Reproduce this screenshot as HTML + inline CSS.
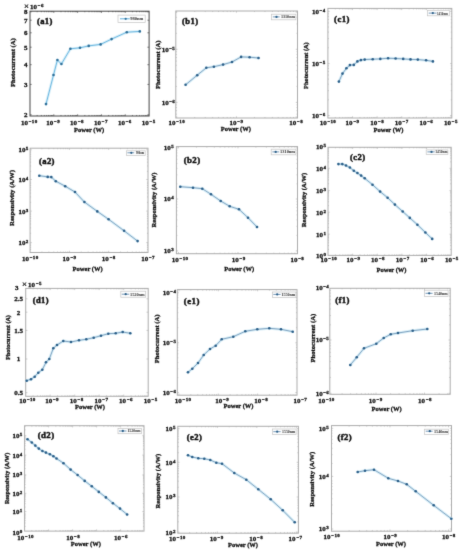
<!DOCTYPE html>
<html><head><meta charset="utf-8"><style>
html,body{margin:0;padding:0;background:#fff;}
svg{display:block;}
text{font-family:'Liberation Serif', serif;font-weight:bold;fill:#111;stroke:#111;stroke-width:0.3px;}
</style></head><body>
<svg width="459" height="550" viewBox="0 0 459 550">
<defs><filter id="bl" x="0" y="0" width="459" height="550" filterUnits="userSpaceOnUse" color-interpolation-filters="sRGB"><feConvolveMatrix order="3" kernelMatrix="0.01134 0.08382 0.01134 0.08382 0.61935 0.08382 0.01134 0.08382 0.01134" divisor="1" edgeMode="duplicate" preserveAlpha="true"/></filter></defs>
<rect width="459" height="550" fill="#fff"/>
<g filter="url(#bl)">
<rect width="459" height="550" fill="#fff"/>
<path d="M37.17 116v-1.02M37.17 11.2v1.02M41.37 116v-1.02M41.37 11.2v1.02M44.34 116v-1.02M44.34 11.2v1.02M46.65 116v-1.02M46.65 11.2v1.02M48.54 116v-1.02M48.54 11.2v1.02M50.13 116v-1.02M50.13 11.2v1.02M51.51 116v-1.02M51.51 11.2v1.02M52.73 116v-1.02M52.73 11.2v1.02M53.82 116v-1.7M53.82 11.2v1.7M60.99 116v-1.02M60.99 11.2v1.02M65.19 116v-1.02M65.19 11.2v1.02M68.16 116v-1.02M68.16 11.2v1.02M70.47 116v-1.02M70.47 11.2v1.02M72.36 116v-1.02M72.36 11.2v1.02M73.95 116v-1.02M73.95 11.2v1.02M75.33 116v-1.02M75.33 11.2v1.02M76.55 116v-1.02M76.55 11.2v1.02M77.64 116v-1.7M77.64 11.2v1.7M84.81 116v-1.02M84.81 11.2v1.02M89.01 116v-1.02M89.01 11.2v1.02M91.98 116v-1.02M91.98 11.2v1.02M94.29 116v-1.02M94.29 11.2v1.02M96.18 116v-1.02M96.18 11.2v1.02M97.77 116v-1.02M97.77 11.2v1.02M99.15 116v-1.02M99.15 11.2v1.02M100.37 116v-1.02M100.37 11.2v1.02M101.46 116v-1.7M101.46 11.2v1.7M108.63 116v-1.02M108.63 11.2v1.02M112.83 116v-1.02M112.83 11.2v1.02M115.80 116v-1.02M115.80 11.2v1.02M118.11 116v-1.02M118.11 11.2v1.02M120.00 116v-1.02M120.00 11.2v1.02M121.59 116v-1.02M121.59 11.2v1.02M122.97 116v-1.02M122.97 11.2v1.02M124.19 116v-1.02M124.19 11.2v1.02M125.28 116v-1.7M125.28 11.2v1.7M132.45 116v-1.02M132.45 11.2v1.02M136.65 116v-1.02M136.65 11.2v1.02M139.62 116v-1.02M139.62 11.2v1.02M141.93 116v-1.02M141.93 11.2v1.02M143.82 116v-1.02M143.82 11.2v1.02M145.41 116v-1.02M145.41 11.2v1.02M146.79 116v-1.02M146.79 11.2v1.02M148.01 116v-1.02M148.01 11.2v1.02M30 11.80h1.7M149.1 11.80h-1.7M30 20.20h1.7M149.1 20.20h-1.7M30 32.80h1.7M149.1 32.80h-1.7M30 47.20h1.7M149.1 47.20h-1.7M30 64.70h1.7M149.1 64.70h-1.7M30 84.40h1.7M149.1 84.40h-1.7M30 114.80h1.7M149.1 114.80h-1.7" stroke="#606060" stroke-width="0.8" fill="none"/>
<rect x="30" y="11.2" width="119.10" height="104.80" fill="none" stroke="#454545" stroke-width="1.0"/>
<text x="29.20" y="124.6" text-anchor="middle" font-size="7.0">10<tspan font-size="5.0" dy="-2.0" dx="0.8" letter-spacing="0.3">−10</tspan></text>
<text x="53.10" y="124.6" text-anchor="middle" font-size="7.0">10<tspan font-size="5.0" dy="-2.0" dx="0.8" letter-spacing="0.3">−9</tspan></text>
<text x="77.00" y="124.6" text-anchor="middle" font-size="7.0">10<tspan font-size="5.0" dy="-2.0" dx="0.8" letter-spacing="0.3">−8</tspan></text>
<text x="100.90" y="124.6" text-anchor="middle" font-size="7.0">10<tspan font-size="5.0" dy="-2.0" dx="0.8" letter-spacing="0.3">−7</tspan></text>
<text x="124.80" y="124.6" text-anchor="middle" font-size="7.0">10<tspan font-size="5.0" dy="-2.0" dx="0.8" letter-spacing="0.3">−6</tspan></text>
<text x="148.70" y="124.6" text-anchor="middle" font-size="7.0">10<tspan font-size="5.0" dy="-2.0" dx="0.8" letter-spacing="0.3">−5</tspan></text>
<text x="27.60" y="14.20" text-anchor="end" font-size="7.0">8</text>
<text x="27.60" y="22.60" text-anchor="end" font-size="7.0">7</text>
<text x="27.60" y="35.20" text-anchor="end" font-size="7.0">6</text>
<text x="27.60" y="49.60" text-anchor="end" font-size="7.0">5</text>
<text x="27.60" y="67.10" text-anchor="end" font-size="7.0">4</text>
<text x="27.60" y="86.80" text-anchor="end" font-size="7.0">3</text>
<text x="27.60" y="117.20" text-anchor="end" font-size="7.0">2</text>
<text x="89.10" y="132.00" text-anchor="middle" font-size="6.5">Power (W)</text>
<text transform="translate(14.99 62.60) rotate(-90)" text-anchor="middle" font-size="6.65">Photocurrent (A)</text>
<text x="36.90" y="23.80" font-size="8.56" letter-spacing="0.4" style="stroke-width:0.5px">(a1)</text>
<text x="26.50" y="9.00" text-anchor="middle" font-size="8.75" style="font-weight:normal;stroke-width:0.3px">×</text>
<text x="30.00" y="8.70" font-size="7.0">10<tspan font-size="5.0" dy="-2.0" dx="0.8" letter-spacing="0.3">−6</tspan></text>
<rect x="118" y="15.1" width="27.20" height="7.40" fill="#fff" stroke="#c4c4c4" stroke-width="0.7"/>
<path d="M120 18.8H129.7" stroke="#5fb0de" stroke-width="1"/>
<circle cx="125.7" cy="18.8" r="1.15" fill="#2d6e98"/>
<text x="130.3" y="20.43" font-size="4.8" textLength="13.10" lengthAdjust="spacingAndGlyphs" style="fill:#2a2a2a;stroke:none">980nm</text>
<path d="M46.00 104.10 L53.50 75.00 L57.40 60.00 L61.40 64.00 L70.40 48.80 L80.00 47.80 L88.70 45.90 L100.60 44.40 L111.60 39.10 L126.80 32.20 L139.80 31.40" stroke="#daf0f9" stroke-width="2.8" fill="none" stroke-linejoin="round" stroke-linecap="round"/>
<path d="M46.00 104.10 L53.50 75.00 L57.40 60.00 L61.40 64.00 L70.40 48.80 L80.00 47.80 L88.70 45.90 L100.60 44.40 L111.60 39.10 L126.80 32.20 L139.80 31.40" stroke="#5fb0de" stroke-width="0.9" fill="none" stroke-linejoin="round"/>
<circle cx="46.00" cy="104.10" r="1.3" fill="#2d6e98"/>
<circle cx="53.50" cy="75.00" r="1.3" fill="#2d6e98"/>
<circle cx="57.40" cy="60.00" r="1.3" fill="#2d6e98"/>
<circle cx="61.40" cy="64.00" r="1.3" fill="#2d6e98"/>
<circle cx="70.40" cy="48.80" r="1.3" fill="#2d6e98"/>
<circle cx="80.00" cy="47.80" r="1.3" fill="#2d6e98"/>
<circle cx="88.70" cy="45.90" r="1.3" fill="#2d6e98"/>
<circle cx="100.60" cy="44.40" r="1.3" fill="#2d6e98"/>
<circle cx="111.60" cy="39.10" r="1.3" fill="#2d6e98"/>
<circle cx="126.80" cy="32.20" r="1.3" fill="#2d6e98"/>
<circle cx="139.80" cy="31.40" r="1.3" fill="#2d6e98"/>
<path d="M176.70 118v-1.7M176.70 11.0v1.7M194.69 118v-1.02M194.69 11.0v1.02M205.21 118v-1.02M205.21 11.0v1.02M212.67 118v-1.02M212.67 11.0v1.02M218.46 118v-1.02M218.46 11.0v1.02M223.19 118v-1.02M223.19 11.0v1.02M227.19 118v-1.02M227.19 11.0v1.02M230.66 118v-1.02M230.66 11.0v1.02M233.72 118v-1.02M233.72 11.0v1.02M236.45 118v-1.7M236.45 11.0v1.7M254.44 118v-1.02M254.44 11.0v1.02M264.96 118v-1.02M264.96 11.0v1.02M272.42 118v-1.02M272.42 11.0v1.02M278.21 118v-1.02M278.21 11.0v1.02M282.94 118v-1.02M282.94 11.0v1.02M286.94 118v-1.02M286.94 11.0v1.02M290.41 118v-1.02M290.41 11.0v1.02M293.47 118v-1.02M293.47 11.0v1.02M296.20 118v-1.7M296.20 11.0v1.7M175.8 49.30h1.7M297.5 49.30h-1.7M175.8 102.40h1.7M297.5 102.40h-1.7M175.8 114.18h1.02M297.5 114.18h-1.02M175.8 110.63h1.02M297.5 110.63h-1.02M175.8 107.55h1.02M297.5 107.55h-1.02M175.8 104.83h1.02M297.5 104.83h-1.02M175.8 86.42h1.02M297.5 86.42h-1.02M175.8 77.06h1.02M297.5 77.06h-1.02M175.8 70.43h1.02M297.5 70.43h-1.02M175.8 65.28h1.02M297.5 65.28h-1.02M175.8 61.08h1.02M297.5 61.08h-1.02M175.8 57.53h1.02M297.5 57.53h-1.02M175.8 54.45h1.02M297.5 54.45h-1.02M175.8 51.73h1.02M297.5 51.73h-1.02M175.8 33.32h1.02M297.5 33.32h-1.02M175.8 23.96h1.02M297.5 23.96h-1.02M175.8 17.33h1.02M297.5 17.33h-1.02M175.8 12.18h1.02M297.5 12.18h-1.02" stroke="#c0c0c0" stroke-width="0.8" fill="none"/>
<rect x="175.8" y="11.0" width="121.70" height="107.00" fill="none" stroke="#acacac" stroke-width="1.0"/>
<text x="176.70" y="125.1" text-anchor="middle" font-size="7.0">10<tspan font-size="5.0" dy="-2.0" dx="0.8" letter-spacing="0.3">−10</tspan></text>
<text x="236.45" y="125.1" text-anchor="middle" font-size="7.0">10<tspan font-size="5.0" dy="-2.0" dx="0.8" letter-spacing="0.3">−9</tspan></text>
<text x="296.20" y="125.1" text-anchor="middle" font-size="7.0">10<tspan font-size="5.0" dy="-2.0" dx="0.8" letter-spacing="0.3">−8</tspan></text>
<text x="161.70" y="51.70" font-size="7.0">10<tspan font-size="5.0" dy="-2.0" dx="0.45" letter-spacing="0.3">−5</tspan></text>
<text x="161.70" y="104.80" font-size="7.0">10<tspan font-size="5.0" dy="-2.0" dx="0.45" letter-spacing="0.3">−6</tspan></text>
<text x="235.80" y="131.30" text-anchor="middle" font-size="6.5">Power (W)</text>
<text transform="translate(160.18 64.80) rotate(-90)" text-anchor="middle" font-size="6.6">Photocurrent (A)</text>
<text x="182.10" y="24.10" font-size="8.56" letter-spacing="0.4" style="stroke-width:0.5px">(b1)</text>
<rect x="271.4" y="14.2" width="24.50" height="5.60" fill="#fff" stroke="#c4c4c4" stroke-width="0.7"/>
<path d="M272.8 16.9H279.7" stroke="#7599b9" stroke-width="1"/>
<circle cx="276.5" cy="16.9" r="1.15" fill="#2a5e88"/>
<text x="280.9" y="18.36" font-size="4.3" textLength="14.10" lengthAdjust="spacingAndGlyphs" style="fill:#2a2a2a;stroke:none">1310nm</text>
<path d="M185.60 84.80 L197.20 75.20 L206.30 67.80 L213.90 66.70 L223.10 64.60 L232.00 62.00 L241.10 56.90 L249.60 57.20 L258.50 58.00" stroke="#daf0f9" stroke-width="2.8" fill="none" stroke-linejoin="round" stroke-linecap="round"/>
<path d="M185.60 84.80 L197.20 75.20 L206.30 67.80 L213.90 66.70 L223.10 64.60 L232.00 62.00 L241.10 56.90 L249.60 57.20 L258.50 58.00" stroke="#7599b9" stroke-width="0.9" fill="none" stroke-linejoin="round"/>
<circle cx="185.60" cy="84.80" r="1.3" fill="#2a5e88"/>
<circle cx="197.20" cy="75.20" r="1.3" fill="#2a5e88"/>
<circle cx="206.30" cy="67.80" r="1.3" fill="#2a5e88"/>
<circle cx="213.90" cy="66.70" r="1.3" fill="#2a5e88"/>
<circle cx="223.10" cy="64.60" r="1.3" fill="#2a5e88"/>
<circle cx="232.00" cy="62.00" r="1.3" fill="#2a5e88"/>
<circle cx="241.10" cy="56.90" r="1.3" fill="#2a5e88"/>
<circle cx="249.60" cy="57.20" r="1.3" fill="#2a5e88"/>
<circle cx="258.50" cy="58.00" r="1.3" fill="#2a5e88"/>
<path d="M335.31 118v-1.02M335.31 8.4v1.02M339.64 118v-1.02M339.64 8.4v1.02M342.71 118v-1.02M342.71 8.4v1.02M345.09 118v-1.02M345.09 8.4v1.02M347.04 118v-1.02M347.04 8.4v1.02M348.69 118v-1.02M348.69 8.4v1.02M350.12 118v-1.02M350.12 8.4v1.02M351.37 118v-1.02M351.37 8.4v1.02M352.50 118v-1.7M352.50 8.4v1.7M359.91 118v-1.02M359.91 8.4v1.02M364.24 118v-1.02M364.24 8.4v1.02M367.31 118v-1.02M367.31 8.4v1.02M369.69 118v-1.02M369.69 8.4v1.02M371.64 118v-1.02M371.64 8.4v1.02M373.29 118v-1.02M373.29 8.4v1.02M374.72 118v-1.02M374.72 8.4v1.02M375.97 118v-1.02M375.97 8.4v1.02M377.10 118v-1.7M377.10 8.4v1.7M384.51 118v-1.02M384.51 8.4v1.02M388.84 118v-1.02M388.84 8.4v1.02M391.91 118v-1.02M391.91 8.4v1.02M394.29 118v-1.02M394.29 8.4v1.02M396.24 118v-1.02M396.24 8.4v1.02M397.89 118v-1.02M397.89 8.4v1.02M399.32 118v-1.02M399.32 8.4v1.02M400.57 118v-1.02M400.57 8.4v1.02M401.70 118v-1.7M401.70 8.4v1.7M409.11 118v-1.02M409.11 8.4v1.02M413.44 118v-1.02M413.44 8.4v1.02M416.51 118v-1.02M416.51 8.4v1.02M418.89 118v-1.02M418.89 8.4v1.02M420.84 118v-1.02M420.84 8.4v1.02M422.49 118v-1.02M422.49 8.4v1.02M423.92 118v-1.02M423.92 8.4v1.02M425.17 118v-1.02M425.17 8.4v1.02M426.30 118v-1.7M426.30 8.4v1.7M433.71 118v-1.02M433.71 8.4v1.02M438.04 118v-1.02M438.04 8.4v1.02M441.11 118v-1.02M441.11 8.4v1.02M443.49 118v-1.02M443.49 8.4v1.02M445.44 118v-1.02M445.44 8.4v1.02M447.09 118v-1.02M447.09 8.4v1.02M448.52 118v-1.02M448.52 8.4v1.02M449.77 118v-1.02M449.77 8.4v1.02M450.90 118v-1.7M450.90 8.4v1.7M327.9 11.40h1.7M451.8 11.40h-1.7M327.9 63.60h1.7M451.8 63.60h-1.7M327.9 115.50h1.7M451.8 115.50h-1.7M327.9 99.83h1.02M451.8 99.83h-1.02M327.9 90.67h1.02M451.8 90.67h-1.02M327.9 84.16h1.02M451.8 84.16h-1.02M327.9 79.12h1.02M451.8 79.12h-1.02M327.9 75.00h1.02M451.8 75.00h-1.02M327.9 71.51h1.02M451.8 71.51h-1.02M327.9 68.49h1.02M451.8 68.49h-1.02M327.9 65.83h1.02M451.8 65.83h-1.02M327.9 47.78h1.02M451.8 47.78h-1.02M327.9 38.62h1.02M451.8 38.62h-1.02M327.9 32.11h1.02M451.8 32.11h-1.02M327.9 27.07h1.02M451.8 27.07h-1.02M327.9 22.95h1.02M451.8 22.95h-1.02M327.9 19.46h1.02M451.8 19.46h-1.02M327.9 16.44h1.02M451.8 16.44h-1.02M327.9 13.78h1.02M451.8 13.78h-1.02" stroke="#c0c0c0" stroke-width="0.8" fill="none"/>
<rect x="327.9" y="8.4" width="123.90" height="109.60" fill="none" stroke="#acacac" stroke-width="1.0"/>
<text x="327.90" y="124.9" text-anchor="middle" font-size="7.0">10<tspan font-size="5.0" dy="-2.0" dx="0.8" letter-spacing="0.3">−10</tspan></text>
<text x="352.50" y="124.9" text-anchor="middle" font-size="7.0">10<tspan font-size="5.0" dy="-2.0" dx="0.8" letter-spacing="0.3">−9</tspan></text>
<text x="377.10" y="124.9" text-anchor="middle" font-size="7.0">10<tspan font-size="5.0" dy="-2.0" dx="0.8" letter-spacing="0.3">−8</tspan></text>
<text x="401.70" y="124.9" text-anchor="middle" font-size="7.0">10<tspan font-size="5.0" dy="-2.0" dx="0.8" letter-spacing="0.3">−7</tspan></text>
<text x="426.30" y="124.9" text-anchor="middle" font-size="7.0">10<tspan font-size="5.0" dy="-2.0" dx="0.8" letter-spacing="0.3">−6</tspan></text>
<text x="450.90" y="124.9" text-anchor="middle" font-size="7.0">10<tspan font-size="5.0" dy="-2.0" dx="0.8" letter-spacing="0.3">−5</tspan></text>
<text x="312.10" y="13.80" font-size="7.0">10<tspan font-size="5.0" dy="-2.0" dx="0.45" letter-spacing="0.3">−4</tspan></text>
<text x="312.10" y="66.00" font-size="7.0">10<tspan font-size="5.0" dy="-2.0" dx="0.45" letter-spacing="0.3">−5</tspan></text>
<text x="312.10" y="117.90" font-size="7.0">10<tspan font-size="5.0" dy="-2.0" dx="0.45" letter-spacing="0.3">−6</tspan></text>
<text x="388.50" y="132.00" text-anchor="middle" font-size="6.5">Power (W)</text>
<text transform="translate(307.90 65.60) rotate(-90)" text-anchor="middle" font-size="6.35">Photocurrent (A)</text>
<text x="334.10" y="21.70" font-size="8.74" letter-spacing="0.4" style="stroke-width:0.5px">(c1)</text>
<rect x="427.4" y="10.5" width="22.20" height="5.30" fill="#fff" stroke="#c4c4c4" stroke-width="0.7"/>
<path d="M428.7 13.1H436.5" stroke="#7599b9" stroke-width="1"/>
<circle cx="432.8" cy="13.1" r="1.15" fill="#2a5e88"/>
<text x="437" y="14.56" font-size="4.3" textLength="11.00" lengthAdjust="spacingAndGlyphs" style="fill:#2a2a2a;stroke:none">1450nm</text>
<path d="M338.90 81.60 L342.50 73.60 L346.40 68.30 L349.90 65.10 L353.80 64.90 L357.40 61.40 L360.90 60.10 L364.70 59.60 L372.70 59.20 L380.30 58.90 L388.10 58.20 L395.60 58.50 L403.20 58.90 L410.50 59.40 L417.80 59.60 L426.10 60.30 L432.90 61.40" stroke="#daf0f9" stroke-width="2.8" fill="none" stroke-linejoin="round" stroke-linecap="round"/>
<path d="M338.90 81.60 L342.50 73.60 L346.40 68.30 L349.90 65.10 L353.80 64.90 L357.40 61.40 L360.90 60.10 L364.70 59.60 L372.70 59.20 L380.30 58.90 L388.10 58.20 L395.60 58.50 L403.20 58.90 L410.50 59.40 L417.80 59.60 L426.10 60.30 L432.90 61.40" stroke="#7599b9" stroke-width="0.9" fill="none" stroke-linejoin="round"/>
<circle cx="338.90" cy="81.60" r="1.3" fill="#2a5e88"/>
<circle cx="342.50" cy="73.60" r="1.3" fill="#2a5e88"/>
<circle cx="346.40" cy="68.30" r="1.3" fill="#2a5e88"/>
<circle cx="349.90" cy="65.10" r="1.3" fill="#2a5e88"/>
<circle cx="353.80" cy="64.90" r="1.3" fill="#2a5e88"/>
<circle cx="357.40" cy="61.40" r="1.3" fill="#2a5e88"/>
<circle cx="360.90" cy="60.10" r="1.3" fill="#2a5e88"/>
<circle cx="364.70" cy="59.60" r="1.3" fill="#2a5e88"/>
<circle cx="372.70" cy="59.20" r="1.3" fill="#2a5e88"/>
<circle cx="380.30" cy="58.90" r="1.3" fill="#2a5e88"/>
<circle cx="388.10" cy="58.20" r="1.3" fill="#2a5e88"/>
<circle cx="395.60" cy="58.50" r="1.3" fill="#2a5e88"/>
<circle cx="403.20" cy="58.90" r="1.3" fill="#2a5e88"/>
<circle cx="410.50" cy="59.40" r="1.3" fill="#2a5e88"/>
<circle cx="417.80" cy="59.60" r="1.3" fill="#2a5e88"/>
<circle cx="426.10" cy="60.30" r="1.3" fill="#2a5e88"/>
<circle cx="432.90" cy="61.40" r="1.3" fill="#2a5e88"/>
<path d="M41.93 252.5v-1.02M41.93 148.2v1.02M48.85 252.5v-1.02M48.85 148.2v1.02M53.76 252.5v-1.02M53.76 148.2v1.02M57.57 252.5v-1.02M57.57 148.2v1.02M60.68 252.5v-1.02M60.68 148.2v1.02M63.31 252.5v-1.02M63.31 148.2v1.02M65.59 252.5v-1.02M65.59 148.2v1.02M67.60 252.5v-1.02M67.60 148.2v1.02M69.40 252.5v-1.7M69.40 148.2v1.7M81.23 252.5v-1.02M81.23 148.2v1.02M88.15 252.5v-1.02M88.15 148.2v1.02M93.06 252.5v-1.02M93.06 148.2v1.02M96.87 252.5v-1.02M96.87 148.2v1.02M99.98 252.5v-1.02M99.98 148.2v1.02M102.61 252.5v-1.02M102.61 148.2v1.02M104.89 252.5v-1.02M104.89 148.2v1.02M106.90 252.5v-1.02M106.90 148.2v1.02M108.70 252.5v-1.7M108.70 148.2v1.7M120.53 252.5v-1.02M120.53 148.2v1.02M127.45 252.5v-1.02M127.45 148.2v1.02M132.36 252.5v-1.02M132.36 148.2v1.02M136.17 252.5v-1.02M136.17 148.2v1.02M139.28 252.5v-1.02M139.28 148.2v1.02M141.91 252.5v-1.02M141.91 148.2v1.02M144.19 252.5v-1.02M144.19 148.2v1.02M146.20 252.5v-1.02M146.20 148.2v1.02M30.1 149.80h1.7M148 149.80h-1.7M30.1 179.50h1.7M148 179.50h-1.7M30.1 211.10h1.7M148 211.10h-1.7M30.1 242.60h1.7M148 242.60h-1.7M30.1 249.46h1.02M148 249.46h-1.02M30.1 247.39h1.02M148 247.39h-1.02M30.1 245.60h1.02M148 245.60h-1.02M30.1 244.02h1.02M148 244.02h-1.02M30.1 233.29h1.02M148 233.29h-1.02M30.1 227.84h1.02M148 227.84h-1.02M30.1 223.98h1.02M148 223.98h-1.02M30.1 220.98h1.02M148 220.98h-1.02M30.1 218.53h1.02M148 218.53h-1.02M30.1 216.46h1.02M148 216.46h-1.02M30.1 214.66h1.02M148 214.66h-1.02M30.1 213.08h1.02M148 213.08h-1.02M30.1 202.35h1.02M148 202.35h-1.02M30.1 196.91h1.02M148 196.91h-1.02M30.1 193.04h1.02M148 193.04h-1.02M30.1 190.05h1.02M148 190.05h-1.02M30.1 187.60h1.02M148 187.60h-1.02M30.1 185.52h1.02M148 185.52h-1.02M30.1 183.73h1.02M148 183.73h-1.02M30.1 182.15h1.02M148 182.15h-1.02M30.1 171.42h1.02M148 171.42h-1.02M30.1 165.97h1.02M148 165.97h-1.02M30.1 162.11h1.02M148 162.11h-1.02M30.1 159.11h1.02M148 159.11h-1.02M30.1 156.66h1.02M148 156.66h-1.02M30.1 154.59h1.02M148 154.59h-1.02M30.1 152.80h1.02M148 152.80h-1.02M30.1 151.22h1.02M148 151.22h-1.02" stroke="#c0c0c0" stroke-width="0.8" fill="none"/>
<rect x="30.1" y="148.2" width="117.90" height="104.30" fill="none" stroke="#acacac" stroke-width="1.0"/>
<text x="30.20" y="261.0" text-anchor="middle" font-size="7.0">10<tspan font-size="5.0" dy="-2.0" dx="0.8" letter-spacing="0.3">−10</tspan></text>
<text x="69.47" y="261.0" text-anchor="middle" font-size="7.0">10<tspan font-size="5.0" dy="-2.0" dx="0.8" letter-spacing="0.3">−9</tspan></text>
<text x="108.74" y="261.0" text-anchor="middle" font-size="7.0">10<tspan font-size="5.0" dy="-2.0" dx="0.8" letter-spacing="0.3">−8</tspan></text>
<text x="148.01" y="261.0" text-anchor="middle" font-size="7.0">10<tspan font-size="5.0" dy="-2.0" dx="0.8" letter-spacing="0.3">−7</tspan></text>
<text x="18.40" y="152.20" font-size="7.0">10<tspan font-size="5.0" dy="-2.0" dx="0.45" letter-spacing="0.3">5</tspan></text>
<text x="18.40" y="181.90" font-size="7.0">10<tspan font-size="5.0" dy="-2.0" dx="0.45" letter-spacing="0.3">4</tspan></text>
<text x="18.40" y="213.50" font-size="7.0">10<tspan font-size="5.0" dy="-2.0" dx="0.45" letter-spacing="0.3">3</tspan></text>
<text x="18.40" y="245.00" font-size="7.0">10<tspan font-size="5.0" dy="-2.0" dx="0.45" letter-spacing="0.3">2</tspan></text>
<text x="87.60" y="270.60" text-anchor="middle" font-size="6.5">Power (W)</text>
<text transform="translate(14.21 198.00) rotate(-90)" text-anchor="middle" font-size="6.7">Responsivity (A/W)</text>
<text x="38.90" y="163.70" font-size="8.65" letter-spacing="0.4" style="stroke-width:0.5px">(a2)</text>
<rect x="126.4" y="150.8" width="18.80" height="4.60" fill="#fff" stroke="#c4c4c4" stroke-width="0.7"/>
<path d="M127.4 152.8H134.2" stroke="#7599b9" stroke-width="1"/>
<circle cx="131.3" cy="152.8" r="1.15" fill="#2a5e88"/>
<text x="135.9" y="154.26" font-size="4.3" textLength="8.20" lengthAdjust="spacingAndGlyphs" style="fill:#2a2a2a;stroke:none">980nm</text>
<path d="M39.30 175.70 L47.70 176.90 L51.30 177.10 L55.80 181.20 L65.20 186.20 L75.00 192.00 L84.40 202.00 L97.30 211.40 L108.60 219.30 L124.10 230.80 L137.60 241.10" stroke="#daf0f9" stroke-width="2.8" fill="none" stroke-linejoin="round" stroke-linecap="round"/>
<path d="M39.30 175.70 L47.70 176.90 L51.30 177.10 L55.80 181.20 L65.20 186.20 L75.00 192.00 L84.40 202.00 L97.30 211.40 L108.60 219.30 L124.10 230.80 L137.60 241.10" stroke="#7599b9" stroke-width="0.9" fill="none" stroke-linejoin="round"/>
<circle cx="39.30" cy="175.70" r="1.3" fill="#2a5e88"/>
<circle cx="47.70" cy="176.90" r="1.3" fill="#2a5e88"/>
<circle cx="51.30" cy="177.10" r="1.3" fill="#2a5e88"/>
<circle cx="55.80" cy="181.20" r="1.3" fill="#2a5e88"/>
<circle cx="65.20" cy="186.20" r="1.3" fill="#2a5e88"/>
<circle cx="75.00" cy="192.00" r="1.3" fill="#2a5e88"/>
<circle cx="84.40" cy="202.00" r="1.3" fill="#2a5e88"/>
<circle cx="97.30" cy="211.40" r="1.3" fill="#2a5e88"/>
<circle cx="108.60" cy="219.30" r="1.3" fill="#2a5e88"/>
<circle cx="124.10" cy="230.80" r="1.3" fill="#2a5e88"/>
<circle cx="137.60" cy="241.10" r="1.3" fill="#2a5e88"/>
<path d="M178.50 253.7v-1.7M178.50 146.6v1.7M196.41 253.7v-1.02M196.41 146.6v1.02M206.89 253.7v-1.02M206.89 146.6v1.02M214.32 253.7v-1.02M214.32 146.6v1.02M220.09 253.7v-1.02M220.09 146.6v1.02M224.80 253.7v-1.02M224.80 146.6v1.02M228.78 253.7v-1.02M228.78 146.6v1.02M232.23 253.7v-1.02M232.23 146.6v1.02M235.28 253.7v-1.02M235.28 146.6v1.02M238.00 253.7v-1.7M238.00 146.6v1.7M255.91 253.7v-1.02M255.91 146.6v1.02M266.39 253.7v-1.02M266.39 146.6v1.02M273.82 253.7v-1.02M273.82 146.6v1.02M279.59 253.7v-1.02M279.59 146.6v1.02M284.30 253.7v-1.02M284.30 146.6v1.02M288.28 253.7v-1.02M288.28 146.6v1.02M291.73 253.7v-1.02M291.73 146.6v1.02M294.78 253.7v-1.02M294.78 146.6v1.02M176.4 147.90h1.7M297.5 147.90h-1.7M176.4 199.00h1.7M297.5 199.00h-1.7M176.4 250.90h1.7M297.5 250.90h-1.7M176.4 235.40h1.02M297.5 235.40h-1.02M176.4 226.33h1.02M297.5 226.33h-1.02M176.4 219.89h1.02M297.5 219.89h-1.02M176.4 214.90h1.02M297.5 214.90h-1.02M176.4 210.83h1.02M297.5 210.83h-1.02M176.4 207.38h1.02M297.5 207.38h-1.02M176.4 204.39h1.02M297.5 204.39h-1.02M176.4 201.76h1.02M297.5 201.76h-1.02M176.4 183.90h1.02M297.5 183.90h-1.02M176.4 174.83h1.02M297.5 174.83h-1.02M176.4 168.39h1.02M297.5 168.39h-1.02M176.4 163.40h1.02M297.5 163.40h-1.02M176.4 159.33h1.02M297.5 159.33h-1.02M176.4 155.88h1.02M297.5 155.88h-1.02M176.4 152.89h1.02M297.5 152.89h-1.02M176.4 150.26h1.02M297.5 150.26h-1.02" stroke="#c0c0c0" stroke-width="0.8" fill="none"/>
<rect x="176.4" y="146.6" width="121.10" height="107.10" fill="none" stroke="#acacac" stroke-width="1.0"/>
<text x="180.00" y="261.6" text-anchor="middle" font-size="7.0">10<tspan font-size="5.0" dy="-2.0" dx="0.8" letter-spacing="0.3">−10</tspan></text>
<text x="238.65" y="261.6" text-anchor="middle" font-size="7.0">10<tspan font-size="5.0" dy="-2.0" dx="0.8" letter-spacing="0.3">−9</tspan></text>
<text x="297.30" y="261.6" text-anchor="middle" font-size="7.0">10<tspan font-size="5.0" dy="-2.0" dx="0.8" letter-spacing="0.3">−8</tspan></text>
<text x="163.80" y="150.30" font-size="7.0">10<tspan font-size="5.0" dy="-2.0" dx="0.45" letter-spacing="0.3">5</tspan></text>
<text x="163.80" y="201.40" font-size="7.0">10<tspan font-size="5.0" dy="-2.0" dx="0.45" letter-spacing="0.3">4</tspan></text>
<text x="163.80" y="253.30" font-size="7.0">10<tspan font-size="5.0" dy="-2.0" dx="0.45" letter-spacing="0.3">3</tspan></text>
<text x="239.20" y="271.30" text-anchor="middle" font-size="6.5">Power (W)</text>
<text transform="translate(156.46 200.00) rotate(-90)" text-anchor="middle" font-size="6.55">Responsivity (A/W)</text>
<text x="183.70" y="162.90" font-size="8.84" letter-spacing="0.4" style="stroke-width:0.5px">(b2)</text>
<rect x="271.2" y="149.2" width="24.70" height="5.60" fill="#fff" stroke="#c4c4c4" stroke-width="0.7"/>
<path d="M272.4 151.9H279.2" stroke="#7599b9" stroke-width="1"/>
<circle cx="275.7" cy="151.9" r="1.15" fill="#2a5e88"/>
<text x="280" y="153.36" font-size="4.3" textLength="15.00" lengthAdjust="spacingAndGlyphs" style="fill:#2a2a2a;stroke:none">1310nm</text>
<path d="M180.30 186.70 L193.00 187.70 L202.30 188.70 L211.00 194.30 L220.70 201.00 L229.70 206.30 L239.00 209.30 L248.00 217.70 L257.00 227.00" stroke="#daf0f9" stroke-width="2.8" fill="none" stroke-linejoin="round" stroke-linecap="round"/>
<path d="M180.30 186.70 L193.00 187.70 L202.30 188.70 L211.00 194.30 L220.70 201.00 L229.70 206.30 L239.00 209.30 L248.00 217.70 L257.00 227.00" stroke="#7599b9" stroke-width="0.9" fill="none" stroke-linejoin="round"/>
<circle cx="180.30" cy="186.70" r="1.3" fill="#2a5e88"/>
<circle cx="193.00" cy="187.70" r="1.3" fill="#2a5e88"/>
<circle cx="202.30" cy="188.70" r="1.3" fill="#2a5e88"/>
<circle cx="211.00" cy="194.30" r="1.3" fill="#2a5e88"/>
<circle cx="220.70" cy="201.00" r="1.3" fill="#2a5e88"/>
<circle cx="229.70" cy="206.30" r="1.3" fill="#2a5e88"/>
<circle cx="239.00" cy="209.30" r="1.3" fill="#2a5e88"/>
<circle cx="248.00" cy="217.70" r="1.3" fill="#2a5e88"/>
<circle cx="257.00" cy="227.00" r="1.3" fill="#2a5e88"/>
<path d="M335.42 255.4v-1.02M335.42 147.3v1.02M339.76 255.4v-1.02M339.76 147.3v1.02M342.83 255.4v-1.02M342.83 147.3v1.02M345.22 255.4v-1.02M345.22 147.3v1.02M347.17 255.4v-1.02M347.17 147.3v1.02M348.82 255.4v-1.02M348.82 147.3v1.02M350.25 255.4v-1.02M350.25 147.3v1.02M351.51 255.4v-1.02M351.51 147.3v1.02M352.64 255.4v-1.7M352.64 147.3v1.7M360.06 255.4v-1.02M360.06 147.3v1.02M364.40 255.4v-1.02M364.40 147.3v1.02M367.47 255.4v-1.02M367.47 147.3v1.02M369.86 255.4v-1.02M369.86 147.3v1.02M371.81 255.4v-1.02M371.81 147.3v1.02M373.46 255.4v-1.02M373.46 147.3v1.02M374.89 255.4v-1.02M374.89 147.3v1.02M376.15 255.4v-1.02M376.15 147.3v1.02M377.28 255.4v-1.7M377.28 147.3v1.7M384.70 255.4v-1.02M384.70 147.3v1.02M389.04 255.4v-1.02M389.04 147.3v1.02M392.11 255.4v-1.02M392.11 147.3v1.02M394.50 255.4v-1.02M394.50 147.3v1.02M396.45 255.4v-1.02M396.45 147.3v1.02M398.10 255.4v-1.02M398.10 147.3v1.02M399.53 255.4v-1.02M399.53 147.3v1.02M400.79 255.4v-1.02M400.79 147.3v1.02M401.92 255.4v-1.7M401.92 147.3v1.7M409.34 255.4v-1.02M409.34 147.3v1.02M413.68 255.4v-1.02M413.68 147.3v1.02M416.75 255.4v-1.02M416.75 147.3v1.02M419.14 255.4v-1.02M419.14 147.3v1.02M421.09 255.4v-1.02M421.09 147.3v1.02M422.74 255.4v-1.02M422.74 147.3v1.02M424.17 255.4v-1.02M424.17 147.3v1.02M425.43 255.4v-1.02M425.43 147.3v1.02M426.56 255.4v-1.7M426.56 147.3v1.7M433.98 255.4v-1.02M433.98 147.3v1.02M438.32 255.4v-1.02M438.32 147.3v1.02M441.39 255.4v-1.02M441.39 147.3v1.02M443.78 255.4v-1.02M443.78 147.3v1.02M445.73 255.4v-1.02M445.73 147.3v1.02M447.38 255.4v-1.02M447.38 147.3v1.02M448.81 255.4v-1.02M448.81 147.3v1.02M450.07 255.4v-1.02M450.07 147.3v1.02M328 168.30h1.7M451.2 168.30h-1.7M328 190.60h1.7M451.2 190.60h-1.7M328 212.20h1.7M451.2 212.20h-1.7M328 234.20h1.7M451.2 234.20h-1.7M328 249.41h1.02M451.2 249.41h-1.02M328 245.56h1.02M451.2 245.56h-1.02M328 242.83h1.02M451.2 242.83h-1.02M328 240.71h1.02M451.2 240.71h-1.02M328 238.97h1.02M451.2 238.97h-1.02M328 237.51h1.02M451.2 237.51h-1.02M328 236.24h1.02M451.2 236.24h-1.02M328 235.12h1.02M451.2 235.12h-1.02M328 227.53h1.02M451.2 227.53h-1.02M328 223.68h1.02M451.2 223.68h-1.02M328 220.95h1.02M451.2 220.95h-1.02M328 218.83h1.02M451.2 218.83h-1.02M328 217.09h1.02M451.2 217.09h-1.02M328 215.63h1.02M451.2 215.63h-1.02M328 214.36h1.02M451.2 214.36h-1.02M328 213.24h1.02M451.2 213.24h-1.02M328 205.65h1.02M451.2 205.65h-1.02M328 201.80h1.02M451.2 201.80h-1.02M328 199.07h1.02M451.2 199.07h-1.02M328 196.95h1.02M451.2 196.95h-1.02M328 195.21h1.02M451.2 195.21h-1.02M328 193.75h1.02M451.2 193.75h-1.02M328 192.48h1.02M451.2 192.48h-1.02M328 191.36h1.02M451.2 191.36h-1.02M328 183.77h1.02M451.2 183.77h-1.02M328 179.92h1.02M451.2 179.92h-1.02M328 177.19h1.02M451.2 177.19h-1.02M328 175.07h1.02M451.2 175.07h-1.02M328 173.33h1.02M451.2 173.33h-1.02M328 171.87h1.02M451.2 171.87h-1.02M328 170.60h1.02M451.2 170.60h-1.02M328 169.48h1.02M451.2 169.48h-1.02M328 161.89h1.02M451.2 161.89h-1.02M328 158.04h1.02M451.2 158.04h-1.02M328 155.31h1.02M451.2 155.31h-1.02M328 153.19h1.02M451.2 153.19h-1.02M328 151.45h1.02M451.2 151.45h-1.02M328 149.99h1.02M451.2 149.99h-1.02M328 148.72h1.02M451.2 148.72h-1.02" stroke="#c0c0c0" stroke-width="0.8" fill="none"/>
<rect x="328" y="147.3" width="123.20" height="108.10" fill="none" stroke="#acacac" stroke-width="1.0"/>
<text x="328.80" y="262.4" text-anchor="middle" font-size="7.0">10<tspan font-size="5.0" dy="-2.0" dx="0.8" letter-spacing="0.3">−10</tspan></text>
<text x="353.40" y="262.4" text-anchor="middle" font-size="7.0">10<tspan font-size="5.0" dy="-2.0" dx="0.8" letter-spacing="0.3">−9</tspan></text>
<text x="378.00" y="262.4" text-anchor="middle" font-size="7.0">10<tspan font-size="5.0" dy="-2.0" dx="0.8" letter-spacing="0.3">−8</tspan></text>
<text x="402.60" y="262.4" text-anchor="middle" font-size="7.0">10<tspan font-size="5.0" dy="-2.0" dx="0.8" letter-spacing="0.3">−7</tspan></text>
<text x="427.20" y="262.4" text-anchor="middle" font-size="7.0">10<tspan font-size="5.0" dy="-2.0" dx="0.8" letter-spacing="0.3">−6</tspan></text>
<text x="451.80" y="262.4" text-anchor="middle" font-size="7.0">10<tspan font-size="5.0" dy="-2.0" dx="0.8" letter-spacing="0.3">−5</tspan></text>
<text x="316.10" y="149.00" font-size="7.0">10<tspan font-size="5.0" dy="-2.0" dx="0.45" letter-spacing="0.3">5</tspan></text>
<text x="316.10" y="170.70" font-size="7.0">10<tspan font-size="5.0" dy="-2.0" dx="0.45" letter-spacing="0.3">4</tspan></text>
<text x="316.10" y="193.00" font-size="7.0">10<tspan font-size="5.0" dy="-2.0" dx="0.45" letter-spacing="0.3">3</tspan></text>
<text x="316.10" y="214.60" font-size="7.0">10<tspan font-size="5.0" dy="-2.0" dx="0.45" letter-spacing="0.3">2</tspan></text>
<text x="316.10" y="236.60" font-size="7.0">10<tspan font-size="5.0" dy="-2.0" dx="0.45" letter-spacing="0.3">1</tspan></text>
<text x="316.10" y="258.40" font-size="7.0">10<tspan font-size="5.0" dy="-2.0" dx="0.45" letter-spacing="0.3">0</tspan></text>
<text x="391.50" y="271.90" text-anchor="middle" font-size="6.5">Power (W)</text>
<text transform="translate(306.44 200.00) rotate(-90)" text-anchor="middle" font-size="6.5">Responsivity (A/W)</text>
<text x="350.00" y="159.80" font-size="8.60" letter-spacing="0.4" style="stroke-width:0.5px">(c2)</text>
<rect x="426.2" y="149.9" width="21.70" height="4.70" fill="#fff" stroke="#c4c4c4" stroke-width="0.7"/>
<path d="M427.4 151.9H434.7" stroke="#7599b9" stroke-width="1"/>
<circle cx="431.5" cy="151.9" r="1.15" fill="#2a5e88"/>
<text x="435.3" y="153.36" font-size="4.3" textLength="12.20" lengthAdjust="spacingAndGlyphs" style="fill:#2a2a2a;stroke:none">1450nm</text>
<path d="M338.40 164.10 L342.30 164.10 L346.00 165.50 L349.90 167.50 L353.80 170.80 L357.40 173.00 L361.10 175.60 L364.70 178.30 L372.50 184.70 L380.10 191.60 L387.60 197.70 L394.90 204.60 L402.70 211.50 L409.80 217.90 L417.40 224.70 L425.40 232.50 L432.20 238.90" stroke="#daf0f9" stroke-width="2.8" fill="none" stroke-linejoin="round" stroke-linecap="round"/>
<path d="M338.40 164.10 L342.30 164.10 L346.00 165.50 L349.90 167.50 L353.80 170.80 L357.40 173.00 L361.10 175.60 L364.70 178.30 L372.50 184.70 L380.10 191.60 L387.60 197.70 L394.90 204.60 L402.70 211.50 L409.80 217.90 L417.40 224.70 L425.40 232.50 L432.20 238.90" stroke="#7599b9" stroke-width="0.9" fill="none" stroke-linejoin="round"/>
<circle cx="338.40" cy="164.10" r="1.3" fill="#2a5e88"/>
<circle cx="342.30" cy="164.10" r="1.3" fill="#2a5e88"/>
<circle cx="346.00" cy="165.50" r="1.3" fill="#2a5e88"/>
<circle cx="349.90" cy="167.50" r="1.3" fill="#2a5e88"/>
<circle cx="353.80" cy="170.80" r="1.3" fill="#2a5e88"/>
<circle cx="357.40" cy="173.00" r="1.3" fill="#2a5e88"/>
<circle cx="361.10" cy="175.60" r="1.3" fill="#2a5e88"/>
<circle cx="364.70" cy="178.30" r="1.3" fill="#2a5e88"/>
<circle cx="372.50" cy="184.70" r="1.3" fill="#2a5e88"/>
<circle cx="380.10" cy="191.60" r="1.3" fill="#2a5e88"/>
<circle cx="387.60" cy="197.70" r="1.3" fill="#2a5e88"/>
<circle cx="394.90" cy="204.60" r="1.3" fill="#2a5e88"/>
<circle cx="402.70" cy="211.50" r="1.3" fill="#2a5e88"/>
<circle cx="409.80" cy="217.90" r="1.3" fill="#2a5e88"/>
<circle cx="417.40" cy="224.70" r="1.3" fill="#2a5e88"/>
<circle cx="425.40" cy="232.50" r="1.3" fill="#2a5e88"/>
<circle cx="432.20" cy="238.90" r="1.3" fill="#2a5e88"/>
<path d="M33.08 396.3v-1.02M33.08 288.4v1.02M37.39 396.3v-1.02M37.39 288.4v1.02M40.45 396.3v-1.02M40.45 288.4v1.02M42.82 396.3v-1.02M42.82 288.4v1.02M44.76 396.3v-1.02M44.76 288.4v1.02M46.40 396.3v-1.02M46.40 288.4v1.02M47.83 396.3v-1.02M47.83 288.4v1.02M49.08 396.3v-1.02M49.08 288.4v1.02M50.20 396.3v-1.7M50.20 288.4v1.7M57.58 396.3v-1.02M57.58 288.4v1.02M61.89 396.3v-1.02M61.89 288.4v1.02M64.95 396.3v-1.02M64.95 288.4v1.02M67.32 396.3v-1.02M67.32 288.4v1.02M69.26 396.3v-1.02M69.26 288.4v1.02M70.90 396.3v-1.02M70.90 288.4v1.02M72.33 396.3v-1.02M72.33 288.4v1.02M73.58 396.3v-1.02M73.58 288.4v1.02M74.70 396.3v-1.7M74.70 288.4v1.7M82.08 396.3v-1.02M82.08 288.4v1.02M86.39 396.3v-1.02M86.39 288.4v1.02M89.45 396.3v-1.02M89.45 288.4v1.02M91.82 396.3v-1.02M91.82 288.4v1.02M93.76 396.3v-1.02M93.76 288.4v1.02M95.40 396.3v-1.02M95.40 288.4v1.02M96.83 396.3v-1.02M96.83 288.4v1.02M98.08 396.3v-1.02M98.08 288.4v1.02M99.20 396.3v-1.7M99.20 288.4v1.7M106.58 396.3v-1.02M106.58 288.4v1.02M110.89 396.3v-1.02M110.89 288.4v1.02M113.95 396.3v-1.02M113.95 288.4v1.02M116.32 396.3v-1.02M116.32 288.4v1.02M118.26 396.3v-1.02M118.26 288.4v1.02M119.90 396.3v-1.02M119.90 288.4v1.02M121.33 396.3v-1.02M121.33 288.4v1.02M122.58 396.3v-1.02M122.58 288.4v1.02M123.70 396.3v-1.7M123.70 288.4v1.7M131.08 396.3v-1.02M131.08 288.4v1.02M135.39 396.3v-1.02M135.39 288.4v1.02M138.45 396.3v-1.02M138.45 288.4v1.02M140.82 396.3v-1.02M140.82 288.4v1.02M142.76 396.3v-1.02M142.76 288.4v1.02M144.40 396.3v-1.02M144.40 288.4v1.02M145.83 396.3v-1.02M145.83 288.4v1.02M147.08 396.3v-1.02M147.08 288.4v1.02M25.7 298.80h1.7M148.2 298.80h-1.7M25.7 312.20h1.7M148.2 312.20h-1.7M25.7 330.40h1.7M148.2 330.40h-1.7M25.7 359.00h1.7M148.2 359.00h-1.7M25.7 392.70h1.7M148.2 392.70h-1.7" stroke="#c0c0c0" stroke-width="0.8" fill="none"/>
<rect x="25.7" y="288.4" width="122.50" height="107.90" fill="none" stroke="#acacac" stroke-width="1.0"/>
<text x="27.40" y="403.2" text-anchor="middle" font-size="7.0">10<tspan font-size="5.0" dy="-2.0" dx="0.8" letter-spacing="0.3">−10</tspan></text>
<text x="52.05" y="403.2" text-anchor="middle" font-size="7.0">10<tspan font-size="5.0" dy="-2.0" dx="0.8" letter-spacing="0.3">−9</tspan></text>
<text x="76.70" y="403.2" text-anchor="middle" font-size="7.0">10<tspan font-size="5.0" dy="-2.0" dx="0.8" letter-spacing="0.3">−8</tspan></text>
<text x="101.35" y="403.2" text-anchor="middle" font-size="7.0">10<tspan font-size="5.0" dy="-2.0" dx="0.8" letter-spacing="0.3">−7</tspan></text>
<text x="126.00" y="403.2" text-anchor="middle" font-size="7.0">10<tspan font-size="5.0" dy="-2.0" dx="0.8" letter-spacing="0.3">−6</tspan></text>
<text x="150.65" y="403.2" text-anchor="middle" font-size="7.0">10<tspan font-size="5.0" dy="-2.0" dx="0.8" letter-spacing="0.3">−5</tspan></text>
<text x="16.80" y="289.80" text-anchor="middle" font-size="7.0">3</text>
<text x="18.60" y="301.20" text-anchor="middle" font-size="7.0">2.5</text>
<text x="18.60" y="314.60" text-anchor="middle" font-size="7.0">2</text>
<text x="18.60" y="332.80" text-anchor="middle" font-size="7.0">1.5</text>
<text x="18.60" y="361.40" text-anchor="middle" font-size="7.0">1</text>
<text x="18.60" y="395.10" text-anchor="middle" font-size="7.0">0.5</text>
<text x="90.00" y="409.10" text-anchor="middle" font-size="6.5">Power (W)</text>
<text transform="translate(10.41 337.50) rotate(-90)" text-anchor="middle" font-size="6.1">Photocurrent (A)</text>
<text x="32.80" y="302.90" font-size="8.46" letter-spacing="0.4" style="stroke-width:0.5px">(d1)</text>
<text x="24.40" y="287.10" text-anchor="middle" font-size="8.75" style="font-weight:normal;stroke-width:0.3px">×</text>
<text x="28.10" y="286.80" font-size="7.0">10<tspan font-size="5.0" dy="-2.0" dx="0.8" letter-spacing="0.3">−5</tspan></text>
<rect x="120.8" y="291.2" width="24.90" height="6.00" fill="#fff" stroke="#c4c4c4" stroke-width="0.7"/>
<path d="M121.7 294.2H129.2" stroke="#7599b9" stroke-width="1"/>
<circle cx="125.7" cy="294.2" r="1.15" fill="#2a5e88"/>
<text x="130" y="295.66" font-size="4.3" textLength="14.60" lengthAdjust="spacingAndGlyphs" style="fill:#2a2a2a;stroke:none">1520nm</text>
<path d="M26.70 380.70 L31.00 379.30 L34.70 376.70 L38.30 372.70 L42.30 369.70 L46.00 362.30 L49.30 359.00 L53.30 348.30 L57.00 345.00 L63.30 341.00 L71.00 342.00 L79.00 340.30 L86.30 339.30 L93.70 337.70 L101.00 335.70 L108.30 333.70 L115.70 333.30 L122.70 332.00 L130.30 333.30" stroke="#daf0f9" stroke-width="2.8" fill="none" stroke-linejoin="round" stroke-linecap="round"/>
<path d="M26.70 380.70 L31.00 379.30 L34.70 376.70 L38.30 372.70 L42.30 369.70 L46.00 362.30 L49.30 359.00 L53.30 348.30 L57.00 345.00 L63.30 341.00 L71.00 342.00 L79.00 340.30 L86.30 339.30 L93.70 337.70 L101.00 335.70 L108.30 333.70 L115.70 333.30 L122.70 332.00 L130.30 333.30" stroke="#7599b9" stroke-width="0.9" fill="none" stroke-linejoin="round"/>
<circle cx="26.70" cy="380.70" r="1.3" fill="#2a5e88"/>
<circle cx="31.00" cy="379.30" r="1.3" fill="#2a5e88"/>
<circle cx="34.70" cy="376.70" r="1.3" fill="#2a5e88"/>
<circle cx="38.30" cy="372.70" r="1.3" fill="#2a5e88"/>
<circle cx="42.30" cy="369.70" r="1.3" fill="#2a5e88"/>
<circle cx="46.00" cy="362.30" r="1.3" fill="#2a5e88"/>
<circle cx="49.30" cy="359.00" r="1.3" fill="#2a5e88"/>
<circle cx="53.30" cy="348.30" r="1.3" fill="#2a5e88"/>
<circle cx="57.00" cy="345.00" r="1.3" fill="#2a5e88"/>
<circle cx="63.30" cy="341.00" r="1.3" fill="#2a5e88"/>
<circle cx="71.00" cy="342.00" r="1.3" fill="#2a5e88"/>
<circle cx="79.00" cy="340.30" r="1.3" fill="#2a5e88"/>
<circle cx="86.30" cy="339.30" r="1.3" fill="#2a5e88"/>
<circle cx="93.70" cy="337.70" r="1.3" fill="#2a5e88"/>
<circle cx="101.00" cy="335.70" r="1.3" fill="#2a5e88"/>
<circle cx="108.30" cy="333.70" r="1.3" fill="#2a5e88"/>
<circle cx="115.70" cy="333.30" r="1.3" fill="#2a5e88"/>
<circle cx="122.70" cy="332.00" r="1.3" fill="#2a5e88"/>
<circle cx="130.30" cy="333.30" r="1.3" fill="#2a5e88"/>
<path d="M179.00 395.2v-1.7M179.00 289.6v1.7M190.83 395.2v-1.02M190.83 289.6v1.02M197.75 395.2v-1.02M197.75 289.6v1.02M202.66 395.2v-1.02M202.66 289.6v1.02M206.47 395.2v-1.02M206.47 289.6v1.02M209.58 395.2v-1.02M209.58 289.6v1.02M212.21 395.2v-1.02M212.21 289.6v1.02M214.49 395.2v-1.02M214.49 289.6v1.02M216.50 395.2v-1.02M216.50 289.6v1.02M218.30 395.2v-1.7M218.30 289.6v1.7M230.13 395.2v-1.02M230.13 289.6v1.02M237.05 395.2v-1.02M237.05 289.6v1.02M241.96 395.2v-1.02M241.96 289.6v1.02M245.77 395.2v-1.02M245.77 289.6v1.02M248.88 395.2v-1.02M248.88 289.6v1.02M251.51 395.2v-1.02M251.51 289.6v1.02M253.79 395.2v-1.02M253.79 289.6v1.02M255.80 395.2v-1.02M255.80 289.6v1.02M257.60 395.2v-1.7M257.60 289.6v1.7M269.43 395.2v-1.02M269.43 289.6v1.02M276.35 395.2v-1.02M276.35 289.6v1.02M281.26 395.2v-1.02M281.26 289.6v1.02M285.07 395.2v-1.02M285.07 289.6v1.02M288.18 395.2v-1.02M288.18 289.6v1.02M290.81 395.2v-1.02M290.81 289.6v1.02M293.09 395.2v-1.02M293.09 289.6v1.02M295.10 395.2v-1.02M295.10 289.6v1.02M177.3 292.80h1.7M297 292.80h-1.7M177.3 342.80h1.7M297 342.80h-1.7M177.3 392.60h1.7M297 392.60h-1.7M177.3 377.58h1.02M297 377.58h-1.02M177.3 368.79h1.02M297 368.79h-1.02M177.3 362.56h1.02M297 362.56h-1.02M177.3 357.72h1.02M297 357.72h-1.02M177.3 353.77h1.02M297 353.77h-1.02M177.3 350.43h1.02M297 350.43h-1.02M177.3 347.54h1.02M297 347.54h-1.02M177.3 344.98h1.02M297 344.98h-1.02M177.3 327.68h1.02M297 327.68h-1.02M177.3 318.89h1.02M297 318.89h-1.02M177.3 312.66h1.02M297 312.66h-1.02M177.3 307.82h1.02M297 307.82h-1.02M177.3 303.87h1.02M297 303.87h-1.02M177.3 300.53h1.02M297 300.53h-1.02M177.3 297.64h1.02M297 297.64h-1.02M177.3 295.08h1.02M297 295.08h-1.02" stroke="#c0c0c0" stroke-width="0.8" fill="none"/>
<rect x="177.3" y="289.6" width="119.70" height="105.60" fill="none" stroke="#acacac" stroke-width="1.0"/>
<text x="183.00" y="402.6" text-anchor="middle" font-size="7.0">10<tspan font-size="5.0" dy="-2.0" dx="0.8" letter-spacing="0.3">−10</tspan></text>
<text x="222.10" y="402.6" text-anchor="middle" font-size="7.0">10<tspan font-size="5.0" dy="-2.0" dx="0.8" letter-spacing="0.3">−9</tspan></text>
<text x="261.20" y="402.6" text-anchor="middle" font-size="7.0">10<tspan font-size="5.0" dy="-2.0" dx="0.8" letter-spacing="0.3">−8</tspan></text>
<text x="300.30" y="402.6" text-anchor="middle" font-size="7.0">10<tspan font-size="5.0" dy="-2.0" dx="0.8" letter-spacing="0.3">−7</tspan></text>
<text x="162.80" y="295.20" font-size="7.0">10<tspan font-size="5.0" dy="-2.0" dx="0.45" letter-spacing="0.3">−4</tspan></text>
<text x="162.80" y="345.20" font-size="7.0">10<tspan font-size="5.0" dy="-2.0" dx="0.45" letter-spacing="0.3">−5</tspan></text>
<text x="162.80" y="395.00" font-size="7.0">10<tspan font-size="5.0" dy="-2.0" dx="0.45" letter-spacing="0.3">−6</tspan></text>
<text x="238.50" y="407.90" text-anchor="middle" font-size="6.5">Power (W)</text>
<text transform="translate(159.19 338.90) rotate(-90)" text-anchor="middle" font-size="6.65">Photocurrent (A)</text>
<text x="183.80" y="303.70" font-size="8.93" letter-spacing="0.4" style="stroke-width:0.5px">(e1)</text>
<rect x="272.4" y="292" width="23.50" height="5.50" fill="#fff" stroke="#c4c4c4" stroke-width="0.7"/>
<path d="M273.3 294.4H280.6" stroke="#7599b9" stroke-width="1"/>
<circle cx="277.2" cy="294.4" r="1.15" fill="#2a5e88"/>
<text x="281.5" y="295.86" font-size="4.3" textLength="13.70" lengthAdjust="spacingAndGlyphs" style="fill:#2a2a2a;stroke:none">1550nm</text>
<path d="M188.00 372.30 L192.30 368.70 L198.00 363.00 L203.70 355.00 L210.00 349.00 L215.70 345.70 L221.70 339.30 L233.30 336.70 L245.30 331.30 L257.30 329.30 L269.30 328.30 L281.00 329.30 L292.70 331.70" stroke="#daf0f9" stroke-width="2.8" fill="none" stroke-linejoin="round" stroke-linecap="round"/>
<path d="M188.00 372.30 L192.30 368.70 L198.00 363.00 L203.70 355.00 L210.00 349.00 L215.70 345.70 L221.70 339.30 L233.30 336.70 L245.30 331.30 L257.30 329.30 L269.30 328.30 L281.00 329.30 L292.70 331.70" stroke="#7599b9" stroke-width="0.9" fill="none" stroke-linejoin="round"/>
<circle cx="188.00" cy="372.30" r="1.3" fill="#2a5e88"/>
<circle cx="192.30" cy="368.70" r="1.3" fill="#2a5e88"/>
<circle cx="198.00" cy="363.00" r="1.3" fill="#2a5e88"/>
<circle cx="203.70" cy="355.00" r="1.3" fill="#2a5e88"/>
<circle cx="210.00" cy="349.00" r="1.3" fill="#2a5e88"/>
<circle cx="215.70" cy="345.70" r="1.3" fill="#2a5e88"/>
<circle cx="221.70" cy="339.30" r="1.3" fill="#2a5e88"/>
<circle cx="233.30" cy="336.70" r="1.3" fill="#2a5e88"/>
<circle cx="245.30" cy="331.30" r="1.3" fill="#2a5e88"/>
<circle cx="257.30" cy="329.30" r="1.3" fill="#2a5e88"/>
<circle cx="269.30" cy="328.30" r="1.3" fill="#2a5e88"/>
<circle cx="281.00" cy="329.30" r="1.3" fill="#2a5e88"/>
<circle cx="292.70" cy="331.70" r="1.3" fill="#2a5e88"/>
<path d="M342.10 394.3v-1.02M342.10 288.3v1.02M350.64 394.3v-1.02M350.64 288.3v1.02M356.70 394.3v-1.02M356.70 288.3v1.02M361.40 394.3v-1.02M361.40 288.3v1.02M365.24 394.3v-1.02M365.24 288.3v1.02M368.49 394.3v-1.02M368.49 288.3v1.02M371.30 394.3v-1.02M371.30 288.3v1.02M373.78 394.3v-1.02M373.78 288.3v1.02M376.00 394.3v-1.7M376.00 288.3v1.7M390.60 394.3v-1.02M390.60 288.3v1.02M399.14 394.3v-1.02M399.14 288.3v1.02M405.20 394.3v-1.02M405.20 288.3v1.02M409.90 394.3v-1.02M409.90 288.3v1.02M413.74 394.3v-1.02M413.74 288.3v1.02M416.99 394.3v-1.02M416.99 288.3v1.02M419.80 394.3v-1.02M419.80 288.3v1.02M422.28 394.3v-1.02M422.28 288.3v1.02M424.50 394.3v-1.7M424.50 288.3v1.7M439.10 394.3v-1.02M439.10 288.3v1.02M447.64 394.3v-1.02M447.64 288.3v1.02M329.8 340.00h1.7M450.2 340.00h-1.7M329.8 393.30h1.7M450.2 393.30h-1.7M329.8 377.45h1.02M450.2 377.45h-1.02M329.8 368.18h1.02M450.2 368.18h-1.02M329.8 361.60h1.02M450.2 361.60h-1.02M329.8 356.50h1.02M450.2 356.50h-1.02M329.8 352.33h1.02M450.2 352.33h-1.02M329.8 348.81h1.02M450.2 348.81h-1.02M329.8 345.75h1.02M450.2 345.75h-1.02M329.8 343.06h1.02M450.2 343.06h-1.02M329.8 324.80h1.02M450.2 324.80h-1.02M329.8 315.53h1.02M450.2 315.53h-1.02M329.8 308.95h1.02M450.2 308.95h-1.02M329.8 303.85h1.02M450.2 303.85h-1.02M329.8 299.68h1.02M450.2 299.68h-1.02M329.8 296.16h1.02M450.2 296.16h-1.02M329.8 293.10h1.02M450.2 293.10h-1.02M329.8 290.41h1.02M450.2 290.41h-1.02" stroke="#c0c0c0" stroke-width="0.8" fill="none"/>
<rect x="329.8" y="288.3" width="120.40" height="106.00" fill="none" stroke="#acacac" stroke-width="1.0"/>
<text x="326.40" y="403.3" text-anchor="middle" font-size="7.0">10<tspan font-size="5.0" dy="-2.0" dx="0.8" letter-spacing="0.3">−10</tspan></text>
<text x="375.70" y="403.3" text-anchor="middle" font-size="7.0">10<tspan font-size="5.0" dy="-2.0" dx="0.8" letter-spacing="0.3">−9</tspan></text>
<text x="425.00" y="403.3" text-anchor="middle" font-size="7.0">10<tspan font-size="5.0" dy="-2.0" dx="0.8" letter-spacing="0.3">−8</tspan></text>
<text x="315.70" y="290.40" font-size="7.0">10<tspan font-size="5.0" dy="-2.0" dx="0.45" letter-spacing="0.3">−4</tspan></text>
<text x="315.70" y="342.40" font-size="7.0">10<tspan font-size="5.0" dy="-2.0" dx="0.45" letter-spacing="0.3">−5</tspan></text>
<text x="315.70" y="395.70" font-size="7.0">10<tspan font-size="5.0" dy="-2.0" dx="0.45" letter-spacing="0.3">−6</tspan></text>
<text x="386.60" y="410.70" text-anchor="middle" font-size="6.5">Power (W)</text>
<text transform="translate(315.09 338.20) rotate(-90)" text-anchor="middle" font-size="6.63">Photocurrent (A)</text>
<text x="335.20" y="303.00" font-size="8.74" letter-spacing="0.4" style="stroke-width:0.5px">(f1)</text>
<rect x="424.4" y="290.2" width="23.70" height="6.30" fill="#fff" stroke="#c4c4c4" stroke-width="0.7"/>
<path d="M425.5 293.3H432.6" stroke="#7599b9" stroke-width="1"/>
<circle cx="429.2" cy="293.3" r="1.15" fill="#2a5e88"/>
<text x="434" y="294.76" font-size="4.3" textLength="13.50" lengthAdjust="spacingAndGlyphs" style="fill:#2a2a2a;stroke:none">1540nm</text>
<path d="M350.30 365.00 L356.70 357.30 L364.00 348.30 L376.30 343.70 L383.70 338.00 L390.70 334.30 L398.00 333.00 L412.70 330.70 L427.30 329.00" stroke="#daf0f9" stroke-width="2.8" fill="none" stroke-linejoin="round" stroke-linecap="round"/>
<path d="M350.30 365.00 L356.70 357.30 L364.00 348.30 L376.30 343.70 L383.70 338.00 L390.70 334.30 L398.00 333.00 L412.70 330.70 L427.30 329.00" stroke="#7599b9" stroke-width="0.9" fill="none" stroke-linejoin="round"/>
<circle cx="350.30" cy="365.00" r="1.3" fill="#2a5e88"/>
<circle cx="356.70" cy="357.30" r="1.3" fill="#2a5e88"/>
<circle cx="364.00" cy="348.30" r="1.3" fill="#2a5e88"/>
<circle cx="376.30" cy="343.70" r="1.3" fill="#2a5e88"/>
<circle cx="383.70" cy="338.00" r="1.3" fill="#2a5e88"/>
<circle cx="390.70" cy="334.30" r="1.3" fill="#2a5e88"/>
<circle cx="398.00" cy="333.00" r="1.3" fill="#2a5e88"/>
<circle cx="412.70" cy="330.70" r="1.3" fill="#2a5e88"/>
<circle cx="427.30" cy="329.00" r="1.3" fill="#2a5e88"/>
<path d="M31.82 531.1v-1.02M31.82 425.7v1.02M36.05 531.1v-1.02M36.05 425.7v1.02M39.05 531.1v-1.02M39.05 425.7v1.02M41.38 531.1v-1.02M41.38 425.7v1.02M43.28 531.1v-1.02M43.28 425.7v1.02M44.88 531.1v-1.02M44.88 425.7v1.02M46.27 531.1v-1.02M46.27 425.7v1.02M47.50 531.1v-1.02M47.50 425.7v1.02M48.60 531.1v-1.7M48.60 425.7v1.7M55.82 531.1v-1.02M55.82 425.7v1.02M60.05 531.1v-1.02M60.05 425.7v1.02M63.05 531.1v-1.02M63.05 425.7v1.02M65.38 531.1v-1.02M65.38 425.7v1.02M67.28 531.1v-1.02M67.28 425.7v1.02M68.88 531.1v-1.02M68.88 425.7v1.02M70.27 531.1v-1.02M70.27 425.7v1.02M71.50 531.1v-1.02M71.50 425.7v1.02M72.60 531.1v-1.7M72.60 425.7v1.7M79.82 531.1v-1.02M79.82 425.7v1.02M84.05 531.1v-1.02M84.05 425.7v1.02M87.05 531.1v-1.02M87.05 425.7v1.02M89.38 531.1v-1.02M89.38 425.7v1.02M91.28 531.1v-1.02M91.28 425.7v1.02M92.88 531.1v-1.02M92.88 425.7v1.02M94.27 531.1v-1.02M94.27 425.7v1.02M95.50 531.1v-1.02M95.50 425.7v1.02M96.60 531.1v-1.7M96.60 425.7v1.7M103.82 531.1v-1.02M103.82 425.7v1.02M108.05 531.1v-1.02M108.05 425.7v1.02M111.05 531.1v-1.02M111.05 425.7v1.02M113.38 531.1v-1.02M113.38 425.7v1.02M115.28 531.1v-1.02M115.28 425.7v1.02M116.88 531.1v-1.02M116.88 425.7v1.02M118.27 531.1v-1.02M118.27 425.7v1.02M119.50 531.1v-1.02M119.50 425.7v1.02M120.60 531.1v-1.7M120.60 425.7v1.7M127.82 531.1v-1.02M127.82 425.7v1.02M132.05 531.1v-1.02M132.05 425.7v1.02M135.05 531.1v-1.02M135.05 425.7v1.02M137.38 531.1v-1.02M137.38 425.7v1.02M139.28 531.1v-1.02M139.28 425.7v1.02M140.88 531.1v-1.02M140.88 425.7v1.02M142.27 531.1v-1.02M142.27 425.7v1.02M24.6 435.70h1.7M144 435.70h-1.7M24.6 455.10h1.7M144 455.10h-1.7M24.6 475.00h1.7M144 475.00h-1.7M24.6 493.30h1.7M144 493.30h-1.7M24.6 511.60h1.7M144 511.60h-1.7M24.6 526.39h1.02M144 526.39h-1.02M24.6 522.99h1.02M144 522.99h-1.02M24.6 520.58h1.02M144 520.58h-1.02M24.6 518.71h1.02M144 518.71h-1.02M24.6 517.18h1.02M144 517.18h-1.02M24.6 515.89h1.02M144 515.89h-1.02M24.6 514.77h1.02M144 514.77h-1.02M24.6 513.78h1.02M144 513.78h-1.02M24.6 507.09h1.02M144 507.09h-1.02M24.6 503.69h1.02M144 503.69h-1.02M24.6 501.28h1.02M144 501.28h-1.02M24.6 499.41h1.02M144 499.41h-1.02M24.6 497.88h1.02M144 497.88h-1.02M24.6 496.59h1.02M144 496.59h-1.02M24.6 495.47h1.02M144 495.47h-1.02M24.6 494.48h1.02M144 494.48h-1.02M24.6 487.79h1.02M144 487.79h-1.02M24.6 484.39h1.02M144 484.39h-1.02M24.6 481.98h1.02M144 481.98h-1.02M24.6 480.11h1.02M144 480.11h-1.02M24.6 478.58h1.02M144 478.58h-1.02M24.6 477.29h1.02M144 477.29h-1.02M24.6 476.17h1.02M144 476.17h-1.02M24.6 475.18h1.02M144 475.18h-1.02M24.6 468.49h1.02M144 468.49h-1.02M24.6 465.09h1.02M144 465.09h-1.02M24.6 462.68h1.02M144 462.68h-1.02M24.6 460.81h1.02M144 460.81h-1.02M24.6 459.28h1.02M144 459.28h-1.02M24.6 457.99h1.02M144 457.99h-1.02M24.6 456.87h1.02M144 456.87h-1.02M24.6 455.88h1.02M144 455.88h-1.02M24.6 449.19h1.02M144 449.19h-1.02M24.6 445.79h1.02M144 445.79h-1.02M24.6 443.38h1.02M144 443.38h-1.02M24.6 441.51h1.02M144 441.51h-1.02M24.6 439.98h1.02M144 439.98h-1.02M24.6 438.69h1.02M144 438.69h-1.02M24.6 437.57h1.02M144 437.57h-1.02M24.6 436.58h1.02M144 436.58h-1.02M24.6 429.89h1.02M144 429.89h-1.02M24.6 426.49h1.02M144 426.49h-1.02" stroke="#c0c0c0" stroke-width="0.8" fill="none"/>
<rect x="24.6" y="425.7" width="119.40" height="105.40" fill="none" stroke="#acacac" stroke-width="1.0"/>
<text x="25.50" y="539.6" text-anchor="middle" font-size="7.0">10<tspan font-size="5.0" dy="-2.0" dx="0.8" letter-spacing="0.3">−10</tspan></text>
<text x="73.20" y="539.6" text-anchor="middle" font-size="7.0">10<tspan font-size="5.0" dy="-2.0" dx="0.8" letter-spacing="0.3">−8</tspan></text>
<text x="120.90" y="539.6" text-anchor="middle" font-size="7.0">10<tspan font-size="5.0" dy="-2.0" dx="0.8" letter-spacing="0.3">−6</tspan></text>
<text x="12.40" y="438.10" font-size="7.0">10<tspan font-size="5.0" dy="-2.0" dx="0.45" letter-spacing="0.3">5</tspan></text>
<text x="12.40" y="457.50" font-size="7.0">10<tspan font-size="5.0" dy="-2.0" dx="0.45" letter-spacing="0.3">4</tspan></text>
<text x="12.40" y="477.40" font-size="7.0">10<tspan font-size="5.0" dy="-2.0" dx="0.45" letter-spacing="0.3">3</tspan></text>
<text x="12.40" y="495.70" font-size="7.0">10<tspan font-size="5.0" dy="-2.0" dx="0.45" letter-spacing="0.3">2</tspan></text>
<text x="12.40" y="514.00" font-size="7.0">10<tspan font-size="5.0" dy="-2.0" dx="0.45" letter-spacing="0.3">1</tspan></text>
<text x="12.40" y="534.60" font-size="7.0">10<tspan font-size="5.0" dy="-2.0" dx="0.45" letter-spacing="0.3">0</tspan></text>
<text x="85.80" y="546.30" text-anchor="middle" font-size="6.5">Power (W)</text>
<text transform="translate(8.53 478.40) rotate(-90)" text-anchor="middle" font-size="6.15">Responsivity (A/W)</text>
<text x="37.70" y="437.80" font-size="8.84" letter-spacing="0.4" style="stroke-width:0.5px">(d2)</text>
<rect x="118" y="428.4" width="23.60" height="5.30" fill="#fff" stroke="#c4c4c4" stroke-width="0.7"/>
<path d="M119 431H126.5" stroke="#7599b9" stroke-width="1"/>
<circle cx="122.8" cy="431" r="1.15" fill="#2a5e88"/>
<text x="127.4" y="432.46" font-size="4.3" textLength="13.20" lengthAdjust="spacingAndGlyphs" style="fill:#2a2a2a;stroke:none">1520nm</text>
<path d="M27.50 439.20 L31.80 442.50 L35.30 445.60 L38.80 448.60 L42.40 451.00 L45.90 452.60 L49.90 454.30 L53.40 456.20 L56.50 458.50 L63.50 463.20 L70.60 469.60 L77.60 475.00 L84.70 480.90 L91.80 486.30 L98.80 491.90 L105.90 497.40 L112.90 503.20 L120.00 508.60 L127.10 514.50" stroke="#daf0f9" stroke-width="2.8" fill="none" stroke-linejoin="round" stroke-linecap="round"/>
<path d="M27.50 439.20 L31.80 442.50 L35.30 445.60 L38.80 448.60 L42.40 451.00 L45.90 452.60 L49.90 454.30 L53.40 456.20 L56.50 458.50 L63.50 463.20 L70.60 469.60 L77.60 475.00 L84.70 480.90 L91.80 486.30 L98.80 491.90 L105.90 497.40 L112.90 503.20 L120.00 508.60 L127.10 514.50" stroke="#7599b9" stroke-width="0.9" fill="none" stroke-linejoin="round"/>
<circle cx="27.50" cy="439.20" r="1.3" fill="#2a5e88"/>
<circle cx="31.80" cy="442.50" r="1.3" fill="#2a5e88"/>
<circle cx="35.30" cy="445.60" r="1.3" fill="#2a5e88"/>
<circle cx="38.80" cy="448.60" r="1.3" fill="#2a5e88"/>
<circle cx="42.40" cy="451.00" r="1.3" fill="#2a5e88"/>
<circle cx="45.90" cy="452.60" r="1.3" fill="#2a5e88"/>
<circle cx="49.90" cy="454.30" r="1.3" fill="#2a5e88"/>
<circle cx="53.40" cy="456.20" r="1.3" fill="#2a5e88"/>
<circle cx="56.50" cy="458.50" r="1.3" fill="#2a5e88"/>
<circle cx="63.50" cy="463.20" r="1.3" fill="#2a5e88"/>
<circle cx="70.60" cy="469.60" r="1.3" fill="#2a5e88"/>
<circle cx="77.60" cy="475.00" r="1.3" fill="#2a5e88"/>
<circle cx="84.70" cy="480.90" r="1.3" fill="#2a5e88"/>
<circle cx="91.80" cy="486.30" r="1.3" fill="#2a5e88"/>
<circle cx="98.80" cy="491.90" r="1.3" fill="#2a5e88"/>
<circle cx="105.90" cy="497.40" r="1.3" fill="#2a5e88"/>
<circle cx="112.90" cy="503.20" r="1.3" fill="#2a5e88"/>
<circle cx="120.00" cy="508.60" r="1.3" fill="#2a5e88"/>
<circle cx="127.10" cy="514.50" r="1.3" fill="#2a5e88"/>
<path d="M189.69 533.2v-1.02M189.69 426.3v1.02M196.65 533.2v-1.02M196.65 426.3v1.02M201.58 533.2v-1.02M201.58 426.3v1.02M205.41 533.2v-1.02M205.41 426.3v1.02M208.54 533.2v-1.02M208.54 426.3v1.02M211.18 533.2v-1.02M211.18 426.3v1.02M213.47 533.2v-1.02M213.47 426.3v1.02M215.49 533.2v-1.02M215.49 426.3v1.02M217.30 533.2v-1.7M217.30 426.3v1.7M229.19 533.2v-1.02M229.19 426.3v1.02M236.15 533.2v-1.02M236.15 426.3v1.02M241.08 533.2v-1.02M241.08 426.3v1.02M244.91 533.2v-1.02M244.91 426.3v1.02M248.04 533.2v-1.02M248.04 426.3v1.02M250.68 533.2v-1.02M250.68 426.3v1.02M252.97 533.2v-1.02M252.97 426.3v1.02M254.99 533.2v-1.02M254.99 426.3v1.02M256.80 533.2v-1.7M256.80 426.3v1.7M268.69 533.2v-1.02M268.69 426.3v1.02M275.65 533.2v-1.02M275.65 426.3v1.02M280.58 533.2v-1.02M280.58 426.3v1.02M284.41 533.2v-1.02M284.41 426.3v1.02M287.54 533.2v-1.02M287.54 426.3v1.02M290.18 533.2v-1.02M290.18 426.3v1.02M292.47 533.2v-1.02M292.47 426.3v1.02M294.49 533.2v-1.02M294.49 426.3v1.02M296.30 533.2v-1.7M296.30 426.3v1.7M177.8 428.60h1.7M298.4 428.60h-1.7M177.8 462.30h1.7M298.4 462.30h-1.7M177.8 497.00h1.7M298.4 497.00h-1.7M177.8 532.20h1.7M298.4 532.20h-1.7M177.8 521.80h1.02M298.4 521.80h-1.02M177.8 515.72h1.02M298.4 515.72h-1.02M177.8 511.41h1.02M298.4 511.41h-1.02M177.8 508.06h1.02M298.4 508.06h-1.02M177.8 505.33h1.02M298.4 505.33h-1.02M177.8 503.02h1.02M298.4 503.02h-1.02M177.8 501.01h1.02M298.4 501.01h-1.02M177.8 499.25h1.02M298.4 499.25h-1.02M177.8 487.27h1.02M298.4 487.27h-1.02M177.8 481.19h1.02M298.4 481.19h-1.02M177.8 476.88h1.02M298.4 476.88h-1.02M177.8 473.53h1.02M298.4 473.53h-1.02M177.8 470.79h1.02M298.4 470.79h-1.02M177.8 468.48h1.02M298.4 468.48h-1.02M177.8 466.48h1.02M298.4 466.48h-1.02M177.8 464.71h1.02M298.4 464.71h-1.02M177.8 452.74h1.02M298.4 452.74h-1.02M177.8 446.66h1.02M298.4 446.66h-1.02M177.8 442.34h1.02M298.4 442.34h-1.02M177.8 439.00h1.02M298.4 439.00h-1.02M177.8 436.26h1.02M298.4 436.26h-1.02M177.8 433.95h1.02M298.4 433.95h-1.02M177.8 431.95h1.02M298.4 431.95h-1.02M177.8 430.18h1.02M298.4 430.18h-1.02" stroke="#c0c0c0" stroke-width="0.8" fill="none"/>
<rect x="177.8" y="426.3" width="120.60" height="106.90" fill="none" stroke="#acacac" stroke-width="1.0"/>
<text x="177.30" y="541.0" text-anchor="middle" font-size="7.0">10<tspan font-size="5.0" dy="-2.0" dx="0.8" letter-spacing="0.3">−10</tspan></text>
<text x="216.70" y="541.0" text-anchor="middle" font-size="7.0">10<tspan font-size="5.0" dy="-2.0" dx="0.8" letter-spacing="0.3">−9</tspan></text>
<text x="256.10" y="541.0" text-anchor="middle" font-size="7.0">10<tspan font-size="5.0" dy="-2.0" dx="0.8" letter-spacing="0.3">−8</tspan></text>
<text x="295.50" y="541.0" text-anchor="middle" font-size="7.0">10<tspan font-size="5.0" dy="-2.0" dx="0.8" letter-spacing="0.3">−7</tspan></text>
<text x="165.60" y="431.00" font-size="7.0">10<tspan font-size="5.0" dy="-2.0" dx="0.45" letter-spacing="0.3">5</tspan></text>
<text x="165.60" y="464.70" font-size="7.0">10<tspan font-size="5.0" dy="-2.0" dx="0.45" letter-spacing="0.3">4</tspan></text>
<text x="165.60" y="499.40" font-size="7.0">10<tspan font-size="5.0" dy="-2.0" dx="0.45" letter-spacing="0.3">3</tspan></text>
<text x="165.60" y="534.60" font-size="7.0">10<tspan font-size="5.0" dy="-2.0" dx="0.45" letter-spacing="0.3">2</tspan></text>
<text x="243.00" y="547.20" text-anchor="middle" font-size="6.5">Power (W)</text>
<text transform="translate(160.16 481.10) rotate(-90)" text-anchor="middle" font-size="6.55">Responsivity (A/W)</text>
<text x="186.80" y="440.00" font-size="8.60" letter-spacing="0.4" style="stroke-width:0.5px">(e2)</text>
<rect x="272.4" y="429" width="23.70" height="5.60" fill="#fff" stroke="#c4c4c4" stroke-width="0.7"/>
<path d="M273.3 431.7H280.6" stroke="#7599b9" stroke-width="1"/>
<circle cx="277.2" cy="431.7" r="1.15" fill="#2a5e88"/>
<text x="282" y="433.16" font-size="4.3" textLength="13.20" lengthAdjust="spacingAndGlyphs" style="fill:#2a2a2a;stroke:none">1550nm</text>
<path d="M188.00 455.30 L192.30 457.00 L198.30 458.30 L204.30 458.70 L210.30 460.00 L216.30 462.70 L222.00 463.70 L234.30 473.00 L246.30 479.70 L258.30 489.30 L270.70 499.30 L282.70 510.30 L294.70 522.30" stroke="#daf0f9" stroke-width="2.8" fill="none" stroke-linejoin="round" stroke-linecap="round"/>
<path d="M188.00 455.30 L192.30 457.00 L198.30 458.30 L204.30 458.70 L210.30 460.00 L216.30 462.70 L222.00 463.70 L234.30 473.00 L246.30 479.70 L258.30 489.30 L270.70 499.30 L282.70 510.30 L294.70 522.30" stroke="#7599b9" stroke-width="0.9" fill="none" stroke-linejoin="round"/>
<circle cx="188.00" cy="455.30" r="1.3" fill="#2a5e88"/>
<circle cx="192.30" cy="457.00" r="1.3" fill="#2a5e88"/>
<circle cx="198.30" cy="458.30" r="1.3" fill="#2a5e88"/>
<circle cx="204.30" cy="458.70" r="1.3" fill="#2a5e88"/>
<circle cx="210.30" cy="460.00" r="1.3" fill="#2a5e88"/>
<circle cx="216.30" cy="462.70" r="1.3" fill="#2a5e88"/>
<circle cx="222.00" cy="463.70" r="1.3" fill="#2a5e88"/>
<circle cx="234.30" cy="473.00" r="1.3" fill="#2a5e88"/>
<circle cx="246.30" cy="479.70" r="1.3" fill="#2a5e88"/>
<circle cx="258.30" cy="489.30" r="1.3" fill="#2a5e88"/>
<circle cx="270.70" cy="499.30" r="1.3" fill="#2a5e88"/>
<circle cx="282.70" cy="510.30" r="1.3" fill="#2a5e88"/>
<circle cx="294.70" cy="522.30" r="1.3" fill="#2a5e88"/>
<path d="M349.11 531.2v-1.02M349.11 425.6v1.02M359.41 531.2v-1.02M359.41 425.6v1.02M366.72 531.2v-1.02M366.72 425.6v1.02M372.39 531.2v-1.02M372.39 425.6v1.02M377.02 531.2v-1.02M377.02 425.6v1.02M380.94 531.2v-1.02M380.94 425.6v1.02M384.33 531.2v-1.02M384.33 425.6v1.02M387.32 531.2v-1.02M387.32 425.6v1.02M390.00 531.2v-1.7M390.00 425.6v1.7M407.61 531.2v-1.02M407.61 425.6v1.02M417.91 531.2v-1.02M417.91 425.6v1.02M425.22 531.2v-1.02M425.22 425.6v1.02M430.89 531.2v-1.02M430.89 425.6v1.02M435.52 531.2v-1.02M435.52 425.6v1.02M439.44 531.2v-1.02M439.44 425.6v1.02M442.83 531.2v-1.02M442.83 425.6v1.02M445.82 531.2v-1.02M445.82 425.6v1.02M448.50 531.2v-1.7M448.50 425.6v1.7M331.5 428.30h1.7M451.5 428.30h-1.7M331.5 476.40h1.7M451.5 476.40h-1.7M331.5 529.00h1.7M451.5 529.00h-1.7M331.5 513.84h1.02M451.5 513.84h-1.02M331.5 504.98h1.02M451.5 504.98h-1.02M331.5 498.69h1.02M451.5 498.69h-1.02M331.5 493.81h1.02M451.5 493.81h-1.02M331.5 489.82h1.02M451.5 489.82h-1.02M331.5 486.45h1.02M451.5 486.45h-1.02M331.5 483.53h1.02M451.5 483.53h-1.02M331.5 480.95h1.02M451.5 480.95h-1.02M331.5 463.49h1.02M451.5 463.49h-1.02M331.5 454.63h1.02M451.5 454.63h-1.02M331.5 448.34h1.02M451.5 448.34h-1.02M331.5 443.46h1.02M451.5 443.46h-1.02M331.5 439.47h1.02M451.5 439.47h-1.02M331.5 436.10h1.02M451.5 436.10h-1.02M331.5 433.18h1.02M451.5 433.18h-1.02M331.5 430.60h1.02M451.5 430.60h-1.02" stroke="#c0c0c0" stroke-width="0.8" fill="none"/>
<rect x="331.5" y="425.6" width="120.00" height="105.60" fill="none" stroke="#acacac" stroke-width="1.0"/>
<text x="331.80" y="539.2" text-anchor="middle" font-size="7.0">10<tspan font-size="5.0" dy="-2.0" dx="0.8" letter-spacing="0.3">−10</tspan></text>
<text x="390.30" y="539.2" text-anchor="middle" font-size="7.0">10<tspan font-size="5.0" dy="-2.0" dx="0.8" letter-spacing="0.3">−9</tspan></text>
<text x="448.80" y="539.2" text-anchor="middle" font-size="7.0">10<tspan font-size="5.0" dy="-2.0" dx="0.8" letter-spacing="0.3">−8</tspan></text>
<text x="318.80" y="430.70" font-size="7.0">10<tspan font-size="5.0" dy="-2.0" dx="0.45" letter-spacing="0.3">5</tspan></text>
<text x="318.80" y="478.80" font-size="7.0">10<tspan font-size="5.0" dy="-2.0" dx="0.45" letter-spacing="0.3">4</tspan></text>
<text x="318.80" y="531.40" font-size="7.0">10<tspan font-size="5.0" dy="-2.0" dx="0.45" letter-spacing="0.3">3</tspan></text>
<text x="391.00" y="545.90" text-anchor="middle" font-size="6.5">Power (W)</text>
<text transform="translate(314.38 479.30) rotate(-90)" text-anchor="middle" font-size="6.6">Responsivity (A/W)</text>
<text x="337.40" y="440.00" font-size="8.65" letter-spacing="0.4" style="stroke-width:0.5px">(f2)</text>
<rect x="424.4" y="429.2" width="24.20" height="5.30" fill="#fff" stroke="#c4c4c4" stroke-width="0.7"/>
<path d="M425.7 431.2H432.6" stroke="#7599b9" stroke-width="1"/>
<circle cx="429.8" cy="431.2" r="1.15" fill="#2a5e88"/>
<text x="434" y="432.66" font-size="4.3" textLength="14.10" lengthAdjust="spacingAndGlyphs" style="fill:#2a2a2a;stroke:none">1540nm</text>
<path d="M357.70 472.00 L365.00 470.70 L374.00 469.70 L388.30 478.30 L398.00 481.00 L406.70 484.30 L415.70 491.30 L433.70 505.30 L451.30 518.70" stroke="#daf0f9" stroke-width="2.8" fill="none" stroke-linejoin="round" stroke-linecap="round"/>
<path d="M357.70 472.00 L365.00 470.70 L374.00 469.70 L388.30 478.30 L398.00 481.00 L406.70 484.30 L415.70 491.30 L433.70 505.30 L451.30 518.70" stroke="#7599b9" stroke-width="0.9" fill="none" stroke-linejoin="round"/>
<circle cx="357.70" cy="472.00" r="1.3" fill="#2a5e88"/>
<circle cx="365.00" cy="470.70" r="1.3" fill="#2a5e88"/>
<circle cx="374.00" cy="469.70" r="1.3" fill="#2a5e88"/>
<circle cx="388.30" cy="478.30" r="1.3" fill="#2a5e88"/>
<circle cx="398.00" cy="481.00" r="1.3" fill="#2a5e88"/>
<circle cx="406.70" cy="484.30" r="1.3" fill="#2a5e88"/>
<circle cx="415.70" cy="491.30" r="1.3" fill="#2a5e88"/>
<circle cx="433.70" cy="505.30" r="1.3" fill="#2a5e88"/>
<circle cx="451.30" cy="518.70" r="1.3" fill="#2a5e88"/>
</g>
</svg>
</body></html>
